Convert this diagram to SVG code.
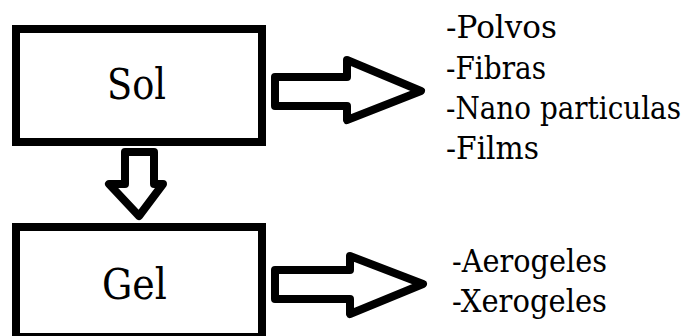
<svg xmlns="http://www.w3.org/2000/svg" width="688" height="336" viewBox="0 0 688 336">
<style>
.box{fill:#fff;stroke:#000;stroke-width:8}
.arr{fill:#fff;stroke:#000;stroke-width:8;stroke-linejoin:round}
.lbl{font-family:"DejaVu Serif",serif;font-size:42px;fill:#000}
.lst{font-family:"DejaVu Serif",serif;font-size:32px;fill:#000}
</style>
<rect width="688" height="336" fill="#fff"/>
<g id="sol">
<rect class="box" x="16" y="29" width="246" height="113"/>
<text class="lbl" x="107" y="99" textLength="59" lengthAdjust="spacingAndGlyphs">Sol</text>
</g>
<g id="gel">
<rect class="box" x="16" y="227" width="246" height="110"/>
<text class="lbl" x="102" y="299" textLength="65" lengthAdjust="spacingAndGlyphs">Gel</text>
</g>
<g id="list1">
<text class="lst" x="446" y="38" textLength="111" lengthAdjust="spacingAndGlyphs">-Polvos</text>
<text class="lst" x="446" y="79" textLength="100" lengthAdjust="spacingAndGlyphs">-Fibras</text>
<text class="lst" transform="translate(446,119) scale(0.87,1)" x="0" y="0">-Nano particulas</text>
<text class="lst" x="446" y="159" textLength="93" lengthAdjust="spacingAndGlyphs">-Films</text>
</g>
<g id="list2">
<text class="lst" x="452" y="272" textLength="155" lengthAdjust="spacingAndGlyphs">-Aerogeles</text>
<text class="lst" x="452" y="312" textLength="155" lengthAdjust="spacingAndGlyphs">-Xerogeles</text>
</g>
<g id="connectors">
<polygon class="arr" points="275,77 347,77 347,60 421,91 347,120 347,106 275,106"/>
<polygon class="arr" points="275,270 350,270 350,256 423,284 350,314 350,299 275,299"/>
<polygon class="arr" points="125,152 154,152 154,184 163,184 139,216 109,184 125,184"/>
</g>
</svg>
